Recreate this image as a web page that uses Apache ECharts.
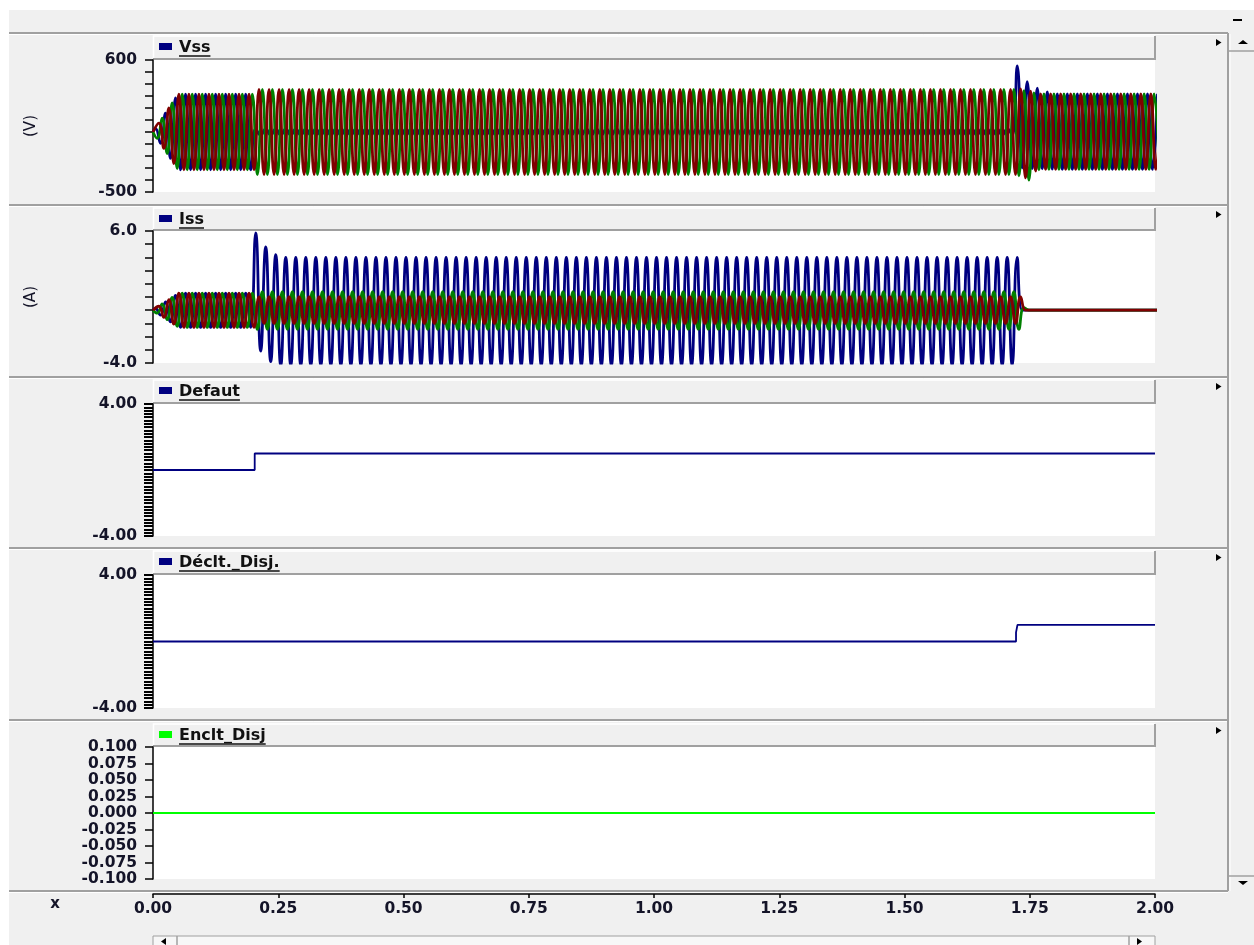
<!DOCTYPE html>
<html>
<head>
<meta charset="utf-8">
<title>Vss / Iss / Defaut / Déclt._Disj. / Enclt_Disj</title>
<script src="https://cdn.jsdelivr.net/npm/echarts@6.0.0/dist/echarts.min.js"></script>
<style>
html,body{margin:0;padding:0;background:#f0f0f0;}
#chart{width:1254px;height:945px;}
</style>
</head>
<body>
<div id="chart"></div>
<script>
// ================= DATA =================
const panelNames = ['Vss', 'Iss', 'Defaut', 'Déclt._Disj.', 'Enclt_Disj'];
const axisUnits = ['(V)', '(A)'];
const xTickLabels = ['0.00', '0.25', '0.50', '0.75', '1.00', '1.25', '1.50', '1.75', '2.00'];

// Waveforms are given as the successive extrema (peak / trough) of each phase,
// one every half cycle of the 50 Hz signal. Each row below = 0.1 s.
const STEP = 0.01;                              // s between successive extrema
const phaseStart = [0.005, 0.01167, 0.00833];   // time of the first extremum, phases A, B, C

// ---- Vss (V) ----
const vssA = [
  31,-95,158,-220,284,-315,315,-315,315,-315,
  315,-315,315,-315,315,-315,315,-315,315,-315,
  28,-25,25,-25,25,-25,25,-25,25,-25,
  25,-25,25,-25,25,-25,25,-25,25,-25,
  25,-25,25,-25,25,-25,25,-25,25,-25,
  25,-25,25,-25,25,-25,25,-25,25,-25,
  25,-25,25,-25,25,-25,25,-25,25,-25,
  25,-25,25,-25,25,-25,25,-25,25,-25,
  25,-25,25,-25,25,-25,25,-25,25,-25,
  25,-25,25,-25,25,-25,25,-25,25,-25,
  25,-25,25,-25,25,-25,25,-25,25,-25,
  25,-25,25,-25,25,-25,25,-25,25,-25,
  25,-25,25,-25,25,-25,25,-25,25,-25,
  25,-25,25,-25,25,-25,25,-25,25,-25,
  25,-25,25,-25,25,-25,25,-25,25,-25,
  25,-25,25,-25,25,-25,25,-25,25,-25,
  25,-25,25,-25,25,-25,25,-25,25,-25,
  25,-25,550,-300,420,-305,366,-308,335,-310,
  318,-312,318,-312,318,-312,318,-312,318,-312,
  318,-312,318,-312,318,-312,318,-312,318,-312,
  318
];
const vssB = [
  74,-137,200,-263,315,-315,315,-315,315,-315,
  315,-315,315,-315,315,-315,315,-315,315,-315,
  355,-355,355,-355,355,-355,355,-355,355,-355,
  355,-355,355,-355,355,-355,355,-355,355,-355,
  355,-355,355,-355,355,-355,355,-355,355,-355,
  355,-355,355,-355,355,-355,355,-355,355,-355,
  355,-355,355,-355,355,-355,355,-355,355,-355,
  355,-355,355,-355,355,-355,355,-355,355,-355,
  355,-355,355,-355,355,-355,355,-355,355,-355,
  355,-355,355,-355,355,-355,355,-355,355,-355,
  355,-355,355,-355,355,-355,355,-355,355,-355,
  355,-355,355,-355,355,-355,355,-355,355,-355,
  355,-355,355,-355,355,-355,355,-355,355,-355,
  355,-355,355,-355,355,-355,355,-355,355,-355,
  355,-355,355,-355,355,-355,355,-355,355,-355,
  355,-355,355,-355,355,-355,355,-355,355,-355,
  355,-355,355,-355,355,-355,355,-355,355,-355,
  355,-355,360,-383,340,-325,318,-312,318,-312,
  318,-312,318,-312,318,-312,318,-312,318,-312,
  318,-312,318,-312,318,-312,318,-312,318,-312,
  318
];
const vssC = [
  -53,116,-179,242,-304,315,-315,315,-315,315,
  -315,315,-315,315,-315,315,-315,315,-315,315,
  -355,355,-355,355,-355,355,-355,355,-355,355,
  -355,355,-355,355,-355,355,-355,355,-355,355,
  -355,355,-355,355,-355,355,-355,355,-355,355,
  -355,355,-355,355,-355,355,-355,355,-355,355,
  -355,355,-355,355,-355,355,-355,355,-355,355,
  -355,355,-355,355,-355,355,-355,355,-355,355,
  -355,355,-355,355,-355,355,-355,355,-355,355,
  -355,355,-355,355,-355,355,-355,355,-355,355,
  -355,355,-355,355,-355,355,-355,355,-355,355,
  -355,355,-355,355,-355,355,-355,355,-355,355,
  -355,355,-355,355,-355,355,-355,355,-355,355,
  -355,355,-355,355,-355,355,-355,355,-355,355,
  -355,355,-355,355,-355,355,-355,355,-355,355,
  -355,355,-355,355,-355,355,-355,355,-355,355,
  -355,355,-355,355,-355,355,-355,355,-355,355,
  -355,355,-365,345,-400,325,-315,318,-312,318,
  -312,318,-312,318,-312,318,-312,318,-312,318,
  -312,318,-312,318,-312,318,-312,318,-312,318,
  -312
];

// ---- Iss (A) ----
const issA = [
  0.13,-0.38,0.63,-0.88,1.13,-1.3,1.3,-1.3,1.3,-1.3,
  1.3,-1.3,1.3,-1.3,1.3,-1.3,1.3,-1.3,1.3,-1.3,
  5.85,-3.1,4.8,-3.9,4.2,-4.2,4.0,-4.2,4.0,-4.2,
  4.0,-4.2,4.0,-4.2,4.0,-4.2,4.0,-4.2,4.0,-4.2,
  4.0,-4.2,4.0,-4.2,4.0,-4.2,4.0,-4.2,4.0,-4.2,
  4.0,-4.2,4.0,-4.2,4.0,-4.2,4.0,-4.2,4.0,-4.2,
  4.0,-4.2,4.0,-4.2,4.0,-4.2,4.0,-4.2,4.0,-4.2,
  4.0,-4.2,4.0,-4.2,4.0,-4.2,4.0,-4.2,4.0,-4.2,
  4.0,-4.2,4.0,-4.2,4.0,-4.2,4.0,-4.2,4.0,-4.2,
  4.0,-4.2,4.0,-4.2,4.0,-4.2,4.0,-4.2,4.0,-4.2,
  4.0,-4.2,4.0,-4.2,4.0,-4.2,4.0,-4.2,4.0,-4.2,
  4.0,-4.2,4.0,-4.2,4.0,-4.2,4.0,-4.2,4.0,-4.2,
  4.0,-4.2,4.0,-4.2,4.0,-4.2,4.0,-4.2,4.0,-4.2,
  4.0,-4.2,4.0,-4.2,4.0,-4.2,4.0,-4.2,4.0,-4.2,
  4.0,-4.2,4.0,-4.2,4.0,-4.2,4.0,-4.2,4.0,-4.2,
  4.0,-4.2,4.0,-4.2,4.0,-4.2,4.0,-4.2,4.0,-4.2,
  4.0,-4.2,4.0,-4.2,4.0,-4.2,4.0,-4.2,4.0,-4.2,
  4.0,-4.2,4.0,0,0,0,0,0,0,0,
  0,0,0,0,0,0,0,0,0,0,
  0,0,0,0,0,0,0,0,0,0,
  0
];
const issB = [
  0.3,-0.55,0.8,-1.05,1.3,-1.3,1.3,-1.3,1.3,-1.3,
  1.3,-1.3,1.3,-1.3,1.3,-1.3,1.3,-1.3,1.3,-1.3,
  1.0,-1.0,1.0,-1.0,1.0,-1.0,1.0,-1.0,1.0,-1.0,
  1.0,-1.0,1.0,-1.0,1.0,-1.0,1.0,-1.0,1.0,-1.0,
  1.0,-1.0,1.0,-1.0,1.0,-1.0,1.0,-1.0,1.0,-1.0,
  1.0,-1.0,1.0,-1.0,1.0,-1.0,1.0,-1.0,1.0,-1.0,
  1.0,-1.0,1.0,-1.0,1.0,-1.0,1.0,-1.0,1.0,-1.0,
  1.0,-1.0,1.0,-1.0,1.0,-1.0,1.0,-1.0,1.0,-1.0,
  1.0,-1.0,1.0,-1.0,1.0,-1.0,1.0,-1.0,1.0,-1.0,
  1.0,-1.0,1.0,-1.0,1.0,-1.0,1.0,-1.0,1.0,-1.0,
  1.0,-1.0,1.0,-1.0,1.0,-1.0,1.0,-1.0,1.0,-1.0,
  1.0,-1.0,1.0,-1.0,1.0,-1.0,1.0,-1.0,1.0,-1.0,
  1.0,-1.0,1.0,-1.0,1.0,-1.0,1.0,-1.0,1.0,-1.0,
  1.0,-1.0,1.0,-1.0,1.0,-1.0,1.0,-1.0,1.0,-1.0,
  1.0,-1.0,1.0,-1.0,1.0,-1.0,1.0,-1.0,1.0,-1.0,
  1.0,-1.0,1.0,-1.0,1.0,-1.0,1.0,-1.0,1.0,-1.0,
  1.0,-1.0,1.0,-1.0,1.0,-1.0,1.0,-1.0,1.0,-1.0,
  1.0,-1.0,1.0,0,0,0,0,0,0,0,
  0,0,0,0,0,0,0,0,0,0,
  0,0,0,0,0,0,0,0,0,0,
  0
];
const issC = [
  -0.22,0.47,-0.72,0.97,-1.22,1.3,-1.3,1.3,-1.3,1.3,
  -1.3,1.3,-1.3,1.3,-1.3,1.3,-1.3,1.3,-1.3,1.3,
  -1.45,1.4,-1.45,1.4,-1.45,1.4,-1.45,1.4,-1.45,1.4,
  -1.45,1.4,-1.45,1.4,-1.45,1.4,-1.45,1.4,-1.45,1.4,
  -1.45,1.4,-1.45,1.4,-1.45,1.4,-1.45,1.4,-1.45,1.4,
  -1.45,1.4,-1.45,1.4,-1.45,1.4,-1.45,1.4,-1.45,1.4,
  -1.45,1.4,-1.45,1.4,-1.45,1.4,-1.45,1.4,-1.45,1.4,
  -1.45,1.4,-1.45,1.4,-1.45,1.4,-1.45,1.4,-1.45,1.4,
  -1.45,1.4,-1.45,1.4,-1.45,1.4,-1.45,1.4,-1.45,1.4,
  -1.45,1.4,-1.45,1.4,-1.45,1.4,-1.45,1.4,-1.45,1.4,
  -1.45,1.4,-1.45,1.4,-1.45,1.4,-1.45,1.4,-1.45,1.4,
  -1.45,1.4,-1.45,1.4,-1.45,1.4,-1.45,1.4,-1.45,1.4,
  -1.45,1.4,-1.45,1.4,-1.45,1.4,-1.45,1.4,-1.45,1.4,
  -1.45,1.4,-1.45,1.4,-1.45,1.4,-1.45,1.4,-1.45,1.4,
  -1.45,1.4,-1.45,1.4,-1.45,1.4,-1.45,1.4,-1.45,1.4,
  -1.45,1.4,-1.45,1.4,-1.45,1.4,-1.45,1.4,-1.45,1.4,
  -1.45,1.4,-1.45,1.4,-1.45,1.4,-1.45,1.4,-1.45,1.4,
  -1.45,1.4,-1.45,0.2,0,0,0,0,0,0,
  0,0,0,0,0,0,0,0,0,0,
  0,0,0,0,0,0,0,0,0,0,
  0
];

// ---- logic signals ----
const defautT = [0, 0.203, 0.203, 2.0];
const defautV = [0, 0, 1, 1];
const decltT = [0, 1.7226, 1.7226, 1.7255, 1.7255, 2.0];
const decltV = [0, 0, 0.55, 0.55, 1, 1];
const encltT = [0, 2.0];
const encltV = [0, 0];

// ================= LAYOUT / STYLE =================
const L = 153, W = 1002;
const gridTops = [60, 231, 404, 575, 747];
const gridHeights = [132, 132, 132, 133, 132];
const headerTops = [36, 208, 380, 551, 724];
const separators = [33, 205, 377, 548, 720, 891];
const NAVY = '#000080', RED = '#800000', GREEN = '#008000', LIME = '#00ff00';
const TXT = '#141428';
const FF = '"DejaVu Sans", Verdana, sans-serif';
const WAVE_W = 2.8;

function wave(vals, p) {
  const d = [[0, 0]];
  vals.forEach((v, i) => d.push([phaseStart[p] + i * STEP, v]));
  return d;
}
function zip(t, v) { return t.map((x, i) => [x, v[i]]); }

function yAxisCfg(i, min, max, interval, fmt, tickW, tickLen, name) {
  return {
    type: 'value', gridIndex: i, min: min, max: max, interval: interval,
    axisLine: { show: true, onZero: false, lineStyle: { color: '#000', width: 1.5 } },
    axisTick: { show: true, inside: false, length: tickLen, lineStyle: { color: '#000', width: tickW } },
    minorTick: { show: false },
    splitLine: { show: false },
    splitArea: { show: false },
    axisLabel: { show: true, formatter: fmt, color: TXT, fontFamily: FF, fontWeight: 'bold', fontSize: 15.5, margin: 16 },
    name: name || '', nameLocation: 'middle', nameRotate: 90, nameGap: 114,
    nameTextStyle: { color: TXT, fontFamily: FF, fontSize: 15 }
  };
}
const near = (a, b) => Math.abs(a - b) < 1e-6;

const grids = gridTops.map((t, i) => ({
  left: L, width: W, top: t, height: gridHeights[i],
  show: true, backgroundColor: '#ffffff', borderWidth: 0, containLabel: false
}));

const xAxes = gridTops.map((t, i) => {
  if (i < 4) return { type: 'value', gridIndex: i, min: 0, max: 2, show: false };
  return {
    type: 'value', gridIndex: i, min: 0, max: 2, interval: 0.25, offset: 15, position: 'bottom',
    axisLine: { show: true, onZero: false, lineStyle: { color: '#000', width: 1.5 } },
    axisTick: { show: true, inside: false, length: 4, lineStyle: { color: '#000', width: 1.5 } },
    splitLine: { show: false },
    axisLabel: {
      formatter: v => xTickLabels[Math.round(v / 0.25)] || '',
      color: TXT, fontFamily: FF, fontWeight: 'bold', fontSize: 15.5, margin: 7
    }
  };
});

const yAxes = [
  yAxisCfg(0, -500, 600, 100, v => (near(v, 600) || near(v, -500)) ? String(v) : '', 1.5, 8, axisUnits[0]),
  yAxisCfg(1, -4, 6, 1, v => (near(v, 6) || near(v, -4)) ? v.toFixed(1) : '', 1.5, 8, axisUnits[1]),
  yAxisCfg(2, -4, 4, 0.2, v => near(Math.abs(v), 4) ? v.toFixed(2) : '', 2, 9),
  yAxisCfg(3, -4, 4, 0.2, v => near(Math.abs(v), 4) ? v.toFixed(2) : '', 2, 9),
  yAxisCfg(4, -0.1, 0.1, 0.025, v => Math.abs(v) < 1e-9 ? '0.000' : v.toFixed(3), 1.5, 8)
];

const base = { type: 'line', showSymbol: false, symbol: 'none', animation: false, silent: true, clip: true };
const series = [
  Object.assign({}, base, { name: 'Vss A', xAxisIndex: 0, yAxisIndex: 0, data: wave(vssA, 0), smooth: 0.5, lineStyle: { color: NAVY, width: WAVE_W } }),
  Object.assign({}, base, { name: 'Vss C', xAxisIndex: 0, yAxisIndex: 0, data: wave(vssC, 2), smooth: 0.5, lineStyle: { color: GREEN, width: WAVE_W } }),
  Object.assign({}, base, { name: 'Vss B', xAxisIndex: 0, yAxisIndex: 0, data: wave(vssB, 1), smooth: 0.5, lineStyle: { color: RED, width: WAVE_W } }),
  Object.assign({}, base, { name: 'Iss A', xAxisIndex: 1, yAxisIndex: 1, data: wave(issA, 0), smooth: 0.5, lineStyle: { color: NAVY, width: WAVE_W } }),
  Object.assign({}, base, { name: 'Iss C', xAxisIndex: 1, yAxisIndex: 1, data: wave(issC, 2), smooth: 0.5, lineStyle: { color: GREEN, width: WAVE_W } }),
  Object.assign({}, base, { name: 'Iss B', xAxisIndex: 1, yAxisIndex: 1, data: wave(issB, 1), smooth: 0.5, lineStyle: { color: RED, width: WAVE_W } }),
  Object.assign({}, base, { name: 'Defaut', xAxisIndex: 2, yAxisIndex: 2, data: zip(defautT, defautV), lineStyle: { color: NAVY, width: 1.8 } }),
  Object.assign({}, base, { name: 'Déclt._Disj.', xAxisIndex: 3, yAxisIndex: 3, data: zip(decltT, decltV), lineStyle: { color: NAVY, width: 1.8 } }),
  Object.assign({}, base, { name: 'Enclt_Disj', xAxisIndex: 4, yAxisIndex: 4, data: zip(encltT, encltV), lineStyle: { color: LIME, width: 2 } })
];

// ---------- decorations (window chrome) ----------
const mctx = document.createElement('canvas').getContext('2d');
const HFONT = 'bold 16px "DejaVu Sans"';
mctx.font = HFONT;
const G = [];
G.push({ type: 'rect', silent: true, shape: { x: 0, y: 0, width: 1254, height: 10 }, style: { fill: '#ffffff' } });
G.push({ type: 'rect', silent: true, shape: { x: 0, y: 0, width: 9, height: 945 }, style: { fill: '#ffffff' } });
separators.forEach(y => {
  G.push({ type: 'line', silent: true, shape: { x1: 9, y1: y, x2: 1228, y2: y }, style: { stroke: '#a0a0a0', lineWidth: 2 } });
  G.push({ type: 'line', silent: true, shape: { x1: 9, y1: y + 1.5, x2: 1228, y2: y + 1.5 }, style: { stroke: '#ffffff', lineWidth: 1 } });
});
headerTops.forEach((ht, i) => {
  const gt = gridTops[i];
  G.push({ type: 'polyline', silent: true, shape: { points: [[L + 0.5, gt], [L + 0.5, ht], [L + W, ht]] }, style: { stroke: '#ffffff', lineWidth: 1.5, fill: null } });
  G.push({ type: 'polyline', silent: true, shape: { points: [[L, gt - 1], [L + W, gt - 1], [L + W, ht]] }, style: { stroke: '#a0a0a0', lineWidth: 2, fill: null } });
  G.push({ type: 'rect', silent: true, shape: { x: 159, y: ht + 7, width: 13, height: 7 }, style: { fill: i === 4 ? LIME : NAVY } });
  G.push({ type: 'text', silent: true, x: 179, y: ht + 12, style: { text: panelNames[i], font: HFONT, fill: '#111111', textVerticalAlign: 'middle', verticalAlign: 'middle' } });
  const w = mctx.measureText(panelNames[i]).width;
  G.push({ type: 'line', silent: true, shape: { x1: 179, y1: ht + 20, x2: 179 + w, y2: ht + 20 }, style: { stroke: '#111111', lineWidth: 1.5 } });
  G.push({ type: 'polygon', silent: true, shape: { points: [[1216, ht + 3], [1216, ht + 10], [1221.5, ht + 6.5]] }, style: { fill: '#000' } });
});
// right scroll bar
G.push({ type: 'line', silent: true, shape: { x1: 1228, y1: 33, x2: 1228, y2: 891 }, style: { stroke: '#a0a0a0', lineWidth: 2 } });
G.push({ type: 'line', silent: true, shape: { x1: 1230, y1: 34, x2: 1230, y2: 891 }, style: { stroke: '#ffffff', lineWidth: 1 } });
G.push({ type: 'line', silent: true, shape: { x1: 1229, y1: 51, x2: 1254, y2: 51 }, style: { stroke: '#a0a0a0', lineWidth: 1.5 } });
G.push({ type: 'polygon', silent: true, shape: { points: [[1238, 44], [1248, 44], [1243, 40]] }, style: { fill: '#000' } });
G.push({ type: 'line', silent: true, shape: { x1: 1229, y1: 876, x2: 1254, y2: 876 }, style: { stroke: '#a0a0a0', lineWidth: 1.5 } });
G.push({ type: 'polygon', silent: true, shape: { points: [[1238, 881], [1248, 881], [1243, 885]] }, style: { fill: '#000' } });
// top "minimise" button
G.push({ type: 'line', silent: true, shape: { x1: 1233, y1: 20, x2: 1242, y2: 20 }, style: { stroke: '#000', lineWidth: 2 } });
// bottom horizontal scroll bar
G.push({ type: 'rect', silent: true, shape: { x: 153, y: 936, width: 1002, height: 14 }, style: { fill: '#f7f7f7', stroke: '#a0a0a0', lineWidth: 1 } });
G.push({ type: 'line', silent: true, shape: { x1: 177, y1: 936, x2: 177, y2: 945 }, style: { stroke: '#a0a0a0', lineWidth: 1.5 } });
G.push({ type: 'line', silent: true, shape: { x1: 1129, y1: 936, x2: 1129, y2: 945 }, style: { stroke: '#a0a0a0', lineWidth: 1.5 } });
G.push({ type: 'polygon', silent: true, shape: { points: [[166, 938], [166, 945], [161, 941.5]] }, style: { fill: '#000' } });
G.push({ type: 'polygon', silent: true, shape: { points: [[1137, 938], [1137, 945], [1142, 941.5]] }, style: { fill: '#000' } });
// x-axis name
G.push({ type: 'text', silent: true, x: 55, y: 904, style: { text: 'x', font: 'bold 15px "DejaVu Sans"', fill: TXT, textAlign: 'center', align: 'center', textVerticalAlign: 'middle', verticalAlign: 'middle' } });

const chart = echarts.init(document.getElementById('chart'), null, { renderer: 'canvas', width: 1254, height: 945 });
chart.setOption({
  backgroundColor: '#f0f0f0',
  animation: false,
  grid: grids,
  xAxis: xAxes,
  yAxis: yAxes,
  series: series,
  graphic: { elements: G }
});
</script>
</body>
</html>
